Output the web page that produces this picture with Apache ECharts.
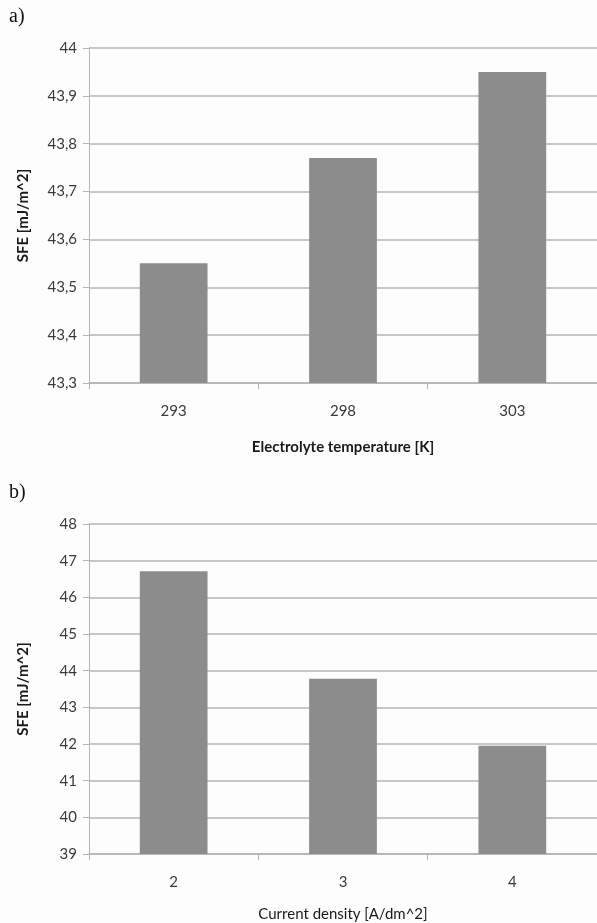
<!DOCTYPE html>
<html>
<head>
<meta charset="utf-8">
<script src="https://cdn.jsdelivr.net/npm/echarts@6/dist/echarts.min.js"></script>
<style>
    html, body { margin: 0; padding: 0; background: #fdfdfd; }
    #chart { width: 597px; height: 923px; }
</style>
</head>
<body>
<div id="chart"></div>
<script>
    // panel a) electrolyte temperature
    var tempCategories = ['293', '298', '303'];
    var tempSfe = [43.55, 43.77, 43.95];
    // panel b) current density
    var currentCategories = ['2', '3', '4'];
    var currentSfe = [46.71, 43.78, 41.95];

    var gridColor = '#b4b4b4';
    var textColor = '#3a3a3a';
    var barColor = '#8c8c8c';
    var font = 'Lato, "Open Sans", sans-serif';

    function commaLabel(v) {
        return (Math.round(v * 10) / 10).toString().replace('.', ',');
    }

    function valueAxis(idx, min, max, interval, gap) {
        return {
            type: 'value', gridIndex: idx, min: min, max: max, interval: interval,
            name: 'SFE [mJ/m^2]', nameLocation: 'middle', nameGap: gap,
            nameTextStyle: { color: '#1a1a1a', fontWeight: 'bold', fontSize: 15, fontFamily: font },
            axisLine: { show: true, lineStyle: { color: gridColor } },
            axisTick: { show: true, length: 6, lineStyle: { color: gridColor } },
            splitLine: { lineStyle: { color: gridColor, width: 1.5 } },
            axisLabel: { color: textColor, fontSize: 15, fontFamily: font, margin: 12, formatter: commaLabel }
        };
    }

    function categoryAxis(idx, data, name, bold, gap) {
        return {
            type: 'category', gridIndex: idx, data: data,
            name: name, nameLocation: 'middle', nameGap: gap,
            nameTextStyle: { color: '#1a1a1a', fontWeight: bold ? 'bold' : 'normal', fontSize: 15, fontFamily: font },
            axisLine: { lineStyle: { color: gridColor, width: 1.5 } },
            axisTick: { show: true, length: 6, lineStyle: { color: gridColor } },
            axisLabel: { color: textColor, fontSize: 15, fontFamily: font, margin: 21 }
        };
    }

    var chart = echarts.init(document.getElementById('chart'));
    chart.setOption({
        backgroundColor: '#fdfdfd',
        animation: false,
        title: [
            { text: 'a)', left: 4, top: 2, textStyle: { fontFamily: '"Liberation Serif", serif', fontWeight: 'normal', fontSize: 20, color: '#111' } },
            { text: 'b)', left: 4, top: 478, textStyle: { fontFamily: '"Liberation Serif", serif', fontWeight: 'normal', fontSize: 20, color: '#111' } }
        ],
        grid: [
            { left: 89, top: 48, width: 510, height: 335 },
            { left: 89, top: 524, width: 510, height: 334 }
        ],
        xAxis: [
            categoryAxis(0, tempCategories, 'Electrolyte temperature [K]', true, 57),
            categoryAxis(1, currentCategories, 'Current density [A/dm^2]', false, 53)
        ],
        yAxis: [
            valueAxis(0, 43.3, 44, 0.1, 58),
            valueAxis(1, 39, 48, 1, 58)
        ],
        series: [
            { type: 'bar', xAxisIndex: 0, yAxisIndex: 0, data: tempSfe, barWidth: '40%', itemStyle: { color: barColor } },
            { type: 'bar', xAxisIndex: 1, yAxisIndex: 1, data: currentSfe, barWidth: '40%', itemStyle: { color: barColor } }
        ]
    });
</script>
</body>
</html>
